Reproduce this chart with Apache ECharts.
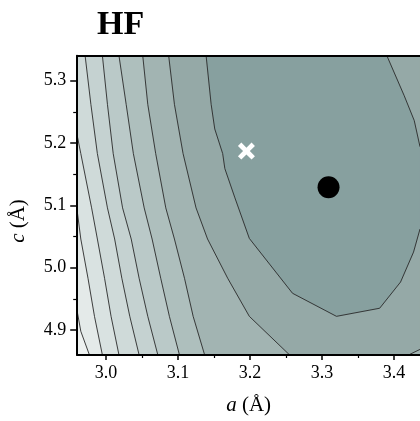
<!DOCTYPE html>
<html><head><meta charset="utf-8">
<script src="https://cdn.jsdelivr.net/npm/echarts@6/dist/echarts.min.js"></script>
<style>html,body{margin:0;padding:0;background:#fff}#c{width:420px;height:421px}</style>
</head><body><div id="c"></div>
<script>
// axis ranges and ticks
const xRange = [2.96, 3.436];
const yRange = [4.86, 5.34];
const xTicks = [3.0, 3.1, 3.2, 3.3, 3.4];
const xMinorTicks = [3.05, 3.15, 3.25, 3.35];
const yTicks = [4.9, 5.0, 5.1, 5.2, 5.3];
const yMinorTicks = [4.95, 5.05, 5.15, 5.25];

// contour lines [a, c], outermost to innermost
const contourM1 = [[2.96,4.930],[2.965,4.898],[2.977,4.86]];
const contour0 = [[2.96,5.091],[2.965,5.046],[2.975,4.983],[2.984,4.922],[2.995,4.86]];
const contour1 = [[2.96,5.212],[2.965,5.183],[2.980,5.096],[2.988,5.046],[2.998,4.983],[3.007,4.922],[3.018,4.86]];
const contour2 = [[2.971,5.34],[2.979,5.262],[2.988,5.183],[3.002,5.096],[3.012,5.046],[3.022,4.983],[3.033,4.922],[3.046,4.86]];
const contour3 = [[2.995,5.34],[3.002,5.262],[3.010,5.183],[3.023,5.096],[3.035,5.046],[3.046,4.983],[3.058,4.922],[3.072,4.86]];
const contour4 = [[3.018,5.34],[3.028,5.262],[3.038,5.183],[3.053,5.096],[3.064,5.046],[3.076,4.983],[3.088,4.922],[3.102,4.86]];
const contour5 = [[3.051,5.34],[3.058,5.262],[3.069,5.183],[3.083,5.096],[3.095,5.046],[3.109,4.983],[3.121,4.922],[3.137,4.86]];
const contour6 = [[3.087,5.34],[3.095,5.262],[3.107,5.183],[3.125,5.096],[3.141,5.046],[3.169,4.983],[3.199,4.922],[3.255,4.86]];
const contour6b = [[3.42,4.86],[3.436,4.869]];
const contour7 = [[3.139,5.34],[3.146,5.262],[3.151,5.2225],[3.162,5.183],[3.165,5.159],[3.179,5.112],[3.199,5.047],[3.259,4.959],[3.320,4.922],[3.380,4.935],[3.409,4.977],[3.427,5.025],[3.436,5.062]];
const contour7b = [[3.436,5.194],[3.428,5.236],[3.414,5.276],[3.390,5.34]];

// markers
const minimumPoint = [3.309, 5.129];
const expPoint = [3.195, 5.187];

// fill shades: background, then inside each contour level
const levelColors = ['#eef2f1','#e4eae9','#d9e2e1','#cfdad9','#c5d2d1','#bac9c8','#aebfbd','#a2b4b2','#95a9a7','#87a09f'];

const [X_MIN, X_MAX] = xRange;
const [Y_MIN, Y_MAX] = yRange;
const closeLeft = [[X_MAX,Y_MIN],[X_MAX,Y_MAX],[X_MIN,Y_MAX]];
const closeTop = [[X_MAX,Y_MIN],[X_MAX,Y_MAX]];
const regionPolys = [
  contourM1.concat(closeLeft),
  contour0.concat(closeLeft),
  contour1.concat(closeLeft),
  contour2.concat(closeTop),
  contour3.concat(closeTop),
  contour4.concat(closeTop),
  contour5.concat(closeTop),
  contour6.concat(contour6b, [[X_MAX,Y_MAX]]),
  contour7.concat(contour7b)
];
const contourLines = [contourM1, contour0, contour1, contour2, contour3, contour4, contour5, contour6, contour6b, contour7, contour7b];

const serif = 'Liberation Serif';
const axisFont = {fontFamily: serif, fontSize: 18, color: '#000'};
const fmt = v => v.toFixed(1);

const chart = echarts.init(document.getElementById('c'), null, {renderer: 'canvas'});
chart.setOption({
  animation: false,
  backgroundColor: '#fff',
  title: {text: 'HF', left: 92, top: 3, textStyle: {fontFamily: serif, fontWeight: 'bold', fontSize: 34, color: '#000'}},
  grid: {left: 77.2, right: 0, top: 55.7, bottom: 61.7, show: true, backgroundColor: levelColors[0], borderWidth: 0},
  xAxis: [
    {type: 'value', position: 'bottom', min: X_MIN, max: X_MAX, z: 10,
     axisLine: {onZero: false, lineStyle: {color: '#000', width: 2}},
     axisTick: {customValues: xTicks, length: 5, lineStyle: {color: '#000', width: 1.5}},
     axisLabel: Object.assign({customValues: xTicks, margin: 9, formatter: fmt}, axisFont),
     splitLine: {show: false},
     name: '{i|a} (Å)', nameLocation: 'middle', nameGap: 40,
     nameTextStyle: {fontFamily: serif, fontSize: 21, color: '#000',
       rich: {i: {fontFamily: serif, fontStyle: 'italic', fontSize: 21, color: '#000'}}}},
    {type: 'value', position: 'bottom', min: X_MIN, max: X_MAX, z: 10,
     axisLine: {show: false, onZero: false},
     axisTick: {customValues: xMinorTicks, length: 3, lineStyle: {color: '#000', width: 1.2}},
     axisLabel: {show: false}, splitLine: {show: false}},
    {type: 'value', position: 'top', min: X_MIN, max: X_MAX, z: 10,
     axisLine: {onZero: false, lineStyle: {color: '#000', width: 2}},
     axisTick: {show: false}, axisLabel: {show: false}, splitLine: {show: false}}
  ],
  yAxis: [
    {type: 'value', position: 'left', min: Y_MIN, max: Y_MAX, z: 10,
     axisLine: {onZero: false, lineStyle: {color: '#000', width: 2}},
     axisTick: {customValues: yTicks, length: 7, lineStyle: {color: '#000', width: 1.5}},
     axisLabel: Object.assign({customValues: yTicks, margin: 11, formatter: fmt}, axisFont),
     splitLine: {show: false}},
    {type: 'value', position: 'left', min: Y_MIN, max: Y_MAX, z: 10,
     axisLine: {show: false, onZero: false},
     axisTick: {customValues: yMinorTicks, length: 4, lineStyle: {color: '#000', width: 1.2}},
     axisLabel: {show: false}, splitLine: {show: false}}
  ],
  graphic: [{
    type: 'text', x: 18, y: 221, rotation: Math.PI / 2,
    style: {text: '{i|c} (Å)', align: 'center', verticalAlign: 'middle', fontFamily: serif, fontSize: 21, fill: '#000',
      rich: {i: {fontFamily: serif, fontStyle: 'italic', fontSize: 21, fill: '#000'}}}
  }],
  series: [
    {type: 'custom', coordinateSystem: 'cartesian2d', xAxisIndex: 0, yAxisIndex: 0, clip: true, silent: true, z: 1,
     data: regionPolys.map((p, i) => [i]),
     renderItem: (params, api) => {
       const i = api.value(0);
       return {type: 'polygon', shape: {points: regionPolys[i].map(p => api.coord(p))},
               style: {fill: levelColors[i + 1], stroke: levelColors[i + 1], lineWidth: 0.3}};
     }},
    {type: 'custom', coordinateSystem: 'cartesian2d', xAxisIndex: 0, yAxisIndex: 0, clip: true, silent: true, z: 2,
     data: contourLines.map((p, i) => [i]),
     renderItem: (params, api) => {
       const i = api.value(0);
       return {type: 'polyline', shape: {points: contourLines[i].map(p => api.coord(p))},
               style: {fill: null, stroke: '#2a2a2a', lineWidth: 0.9}};
     }},
    {type: 'scatter', xAxisIndex: 0, yAxisIndex: 0, z: 5, silent: true,
     data: [minimumPoint], symbol: 'circle', symbolSize: 22, itemStyle: {color: '#000', opacity: 1}},
    {type: 'scatter', xAxisIndex: 0, yAxisIndex: 0, z: 5, silent: true,
     data: [expPoint], symbolSize: 17,
     symbol: 'path://M0,4L4,0L10,6L16,0L20,4L14,10L20,16L16,20L10,14L4,20L0,16L6,10Z',
     itemStyle: {color: '#fff', opacity: 1}}
  ]
});
</script>
</body></html>
